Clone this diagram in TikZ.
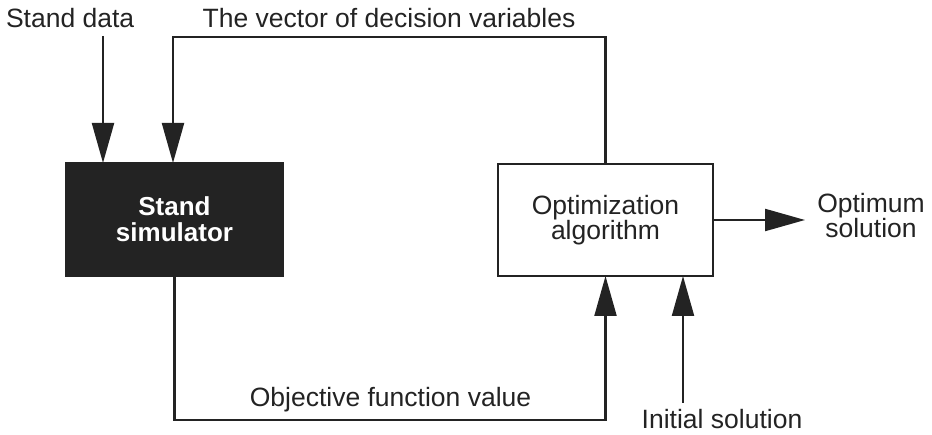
\documentclass[tikz,border=0pt]{standalone}
\usepackage{fontspec}
\setmainfont{Liberation Sans}
\usetikzlibrary{arrows.meta}
\definecolor{ink}{RGB}{35,35,35}
\begin{document}
\begin{tikzpicture}[x=1pt,y=-1pt,
  every node/.style={inner sep=0pt,outer sep=0pt},
  lbl/.style={font=\fontsize{26.5pt}{24pt}\selectfont,text=ink,align=center},
  arr/.style={draw=ink,line width=2.2pt,-{Triangle[length=40pt,width=22pt]}},
  simbox/.style={fill=ink,draw=ink,line width=1.5pt,minimum width=217pt,minimum height=113pt,
    font=\bfseries\fontsize{26pt}{26pt}\selectfont,text=white,align=center},
  optbox/.style={fill=white,draw=ink,line width=2.2pt,minimum width=215pt,minimum height=112pt,
    font=\fontsize{26.5pt}{25pt}\selectfont,text=ink,align=center}]
\useasboundingbox (0,0) rectangle (932,435);
\node[simbox] (sim) at (174.5,219.5) {Stand\\simulator};
\node[optbox] (opt) at (605.5,220) {Optimization\\algorithm};
\node[lbl,anchor=base west] (sd) at (6,28) {Stand data};
\node[lbl,anchor=base] (vec) at (389,28) {The vector of decision variables};
\node[lbl,anchor=base] (obj) at (390.5,407) {Objective function value};
\node[lbl,anchor=base] (os) at (871,238) {Optimum\\solution};
\node[lbl,anchor=base] (is) at (722,429) {Initial solution};
\coordinate (sdA) at (103,36);
\coordinate (vtop) at (173,37);
\coordinate (vbot) at (174,420);
\coordinate (init) at (683,403);
\coordinate (oend) at (805,220);
\draw[arr] (sdA) -- (sdA |- sim.north);
\draw[arr] (opt.north) |- (vtop) -- (vtop |- sim.north);
\draw[arr] (sim.south) -- (sim.south |- vbot) -| (opt.south);
\draw[arr] (init) -- (init |- opt.south);
\draw[arr] (opt.east) -- (oend);
\end{tikzpicture}
\end{document}
